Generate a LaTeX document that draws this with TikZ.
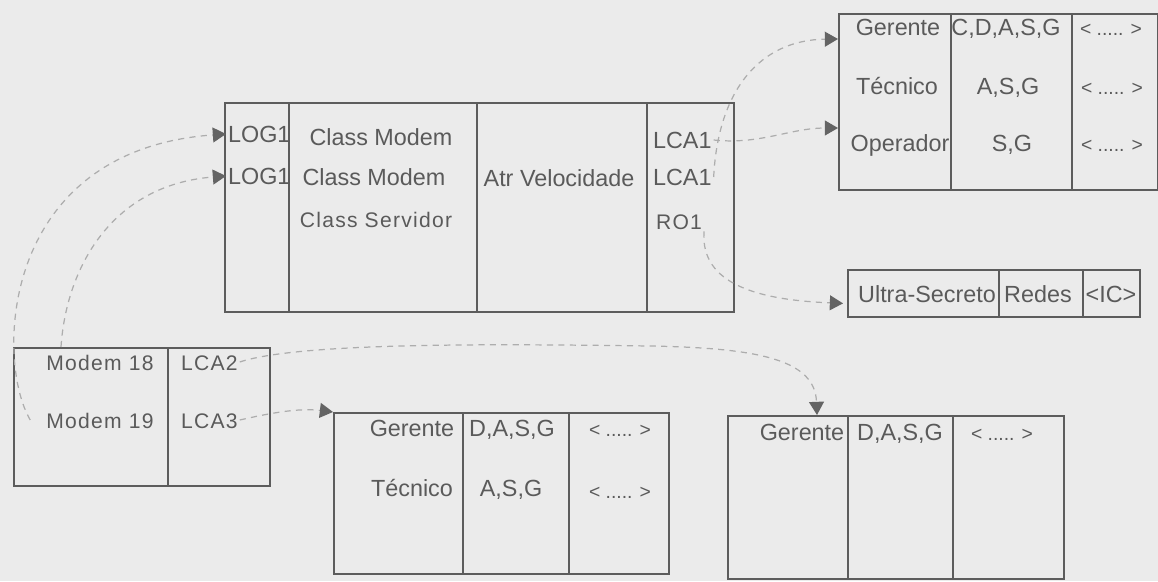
\documentclass[tikz,border=0pt]{standalone}
\usepackage{fontspec}
\setmainfont{Liberation Sans}
\newfontfamily\spacedfont[LetterSpace=6]{Liberation Sans}
\usetikzlibrary{
  positioning,
  arrows.meta,
  calc
}
\definecolor{scanBg}{HTML}{EBEBEB}
\definecolor{scanLine}{HTML}{5C5C5C}
\definecolor{scanText}{HTML}{5A5A5A}
\definecolor{scanDash}{HTML}{ADADAD}
\definecolor{scanTip}{HTML}{646464}

\begin{document}
\begin{tikzpicture}[
  x=0.02cm, y=-0.02cm,
  every node/.style={inner sep=1pt, text height=9.5pt, text depth=0pt},
  cell/.style 2 args={
    draw=scanLine, line width=1pt, anchor=north west, inner sep=0pt,
    text height=, text depth=,
    minimum width=#1*0.02cm, minimum height=#2*0.02cm
  },
  txt/.style={text=scanText, font=\fontsize{13.3pt}{15pt}\selectfont},
  txtsp/.style={text=scanText, font=\spacedfont\fontsize{12pt}{14pt}\selectfont},
  dots/.style={text=scanText, font=\fontsize{11pt}{13pt}\selectfont},
  link/.style={
    draw=scanDash, line width=0.7pt, dash pattern=on 3.5pt off 3pt,
    -{Triangle[length=7.5pt, width=8.5pt, color=scanTip, fill=scanTip]}
  }
]
 % page (pixel units, y downwards)
 \fill[scanBg] (0,0) rectangle (1158,581);
 \useasboundingbox (0,0) rectangle (1158,581);

 % Access list (top right)
 \node[cell={112}{176}] (tc1) at (838,13) {};
 \node[cell={121}{176}] (tc2) at (950,13) {};
 \node[cell={86}{176}] (tc3) at (1071,13) {};
 \node[txt] (tger) at (898,27) {Gerente};
 \node[txt] (ttec) at (897,86) {Técnico};
 \node[txt] (topr) at (900,143) {Operador};
 \node[txt] (tgerr) at (1006,27) {C,D,A,S,G};
 \node[txt] (ttecr) at (1008,86) {A,S,G};
 \node[txt] (topr2) at (1012,143) {S,G};
 \node[dots] (tgerd) at (1111,27) {< ..... >};
 \node[dots] (ttecd) at (1112,86) {< ..... >};
 \node[dots] (toprd) at (1112,143) {< ..... >};

 % Object record (middle)
 \node[txt, anchor=west] (log1a) at (226,134) {LOG1};
 \node[txt, anchor=west] (log1b) at (226,176) {LOG1};
 \node[cell={64}{209}] (mc1) at (224,102) {};
 \node[cell={188}{209}] (mc2) at (288,102) {};
 \node[cell={170}{209}] (mc3) at (476,102) {};
 \node[cell={87}{209}] (mc4) at (646,102) {};
 \node[txt] (cmoda) at (381,137) {Class Modem};
 \node[txt] (cmodb) at (374,177) {Class Modem};
 \node[txtsp] (cserv) at (376,219) {Class Servidor};
 \node[txt] (atrvel) at (559,178) {Atr Velocidade};
 \node[txt, anchor=west] (lca1a) at (651,140) {LCA1};
 \node[txt, anchor=west] (lca1b) at (651,177) {LCA1};
 \node[txtsp] (ro1) at (679,221) {RO1};

 % Label
 \node[cell={151}{47}] (uc1) at (847,269) {};
 \node[cell={84}{47}] (uc2) at (998,269) {};
 \node[cell={57}{47}] (uc3) at (1082,269) {};
 \node[txt] (ultra) at (927,294) {Ultra-Secreto};
 \node[txt] (redes) at (1038,294) {Redes};
 \node[txt] (ic) at (1111,294) {<IC>};

 % Modems
 \node[cell={154}{138}] (dc1) at (13,347) {};
 \node[cell={102}{138}] (dc2) at (167,347) {};
 \node[txtsp] (m18) at (100,362) {Modem 18};
 \node[txtsp] (m19) at (100,420) {Modem 19};
 \node[txtsp, anchor=west] (lca2) at (179,362) {LCA2};
 \node[txtsp, anchor=west] (lca3) at (179,420) {LCA3};

 % LCA3 list
 \node[cell={129}{161}] (bc1) at (333,412) {};
 \node[cell={106}{161}] (bc2) at (462,412) {};
 \node[cell={100}{161}] (bc3) at (568,412) {};
 \node[txt] (bger) at (412,428) {Gerente};
 \node[txt] (btec) at (412,488) {Técnico};
 \node[txt] (bgerr) at (512,428) {D,A,S,G};
 \node[txt] (btecr) at (511,488) {A,S,G};
 \node[dots] (bgerd) at (620,428) {< ..... >};
 \node[dots] (btecd) at (620,490) {< ..... >};

 % LCA2 list
 \node[cell={120}{163}] (ec1) at (727,415) {};
 \node[cell={105}{163}] (ec2) at (847,415) {};
 \node[cell={111}{163}] (ec3) at (952,415) {};
 \node[txt] (eger) at (802,432) {Gerente};
 \node[txt] (egerr) at (900,432) {D,A,S,G};
 \node[dots] (egerd) at (1002,432) {< ..... >};

 % Links
 \draw[link] ([xshift=-8pt]m19.west) .. controls (-5,360) and (0,150) .. (log1a.west);
 \draw[link] ($(dc1.north west)+(48,0)$) .. controls (66,270) and (110,185) .. (log1b.west);
 \draw[link] (lca1b.east) .. controls (718,90) and (760,40) .. ($(tc1.north west)+(0,26)$);
 \draw[link] (lca1a.east) .. controls (760,145) and (790,128) .. ($(tc1.north west)+(0,115)$);
 \draw[link] (ro1.south east) .. controls (700,285) and (760,300) .. ($(uc1.west)+(-4,10)$);
 \draw[link] (lca2.east) .. controls (300,342) and (500,344) .. (650,346)
   .. controls (760,348) and (815,360) .. ($(ec1.north west)+(90,0)$);
 \draw[link] (lca3.east) .. controls (275,412) and (300,408) .. (bc1.north west);
\end{tikzpicture}
\end{document}
